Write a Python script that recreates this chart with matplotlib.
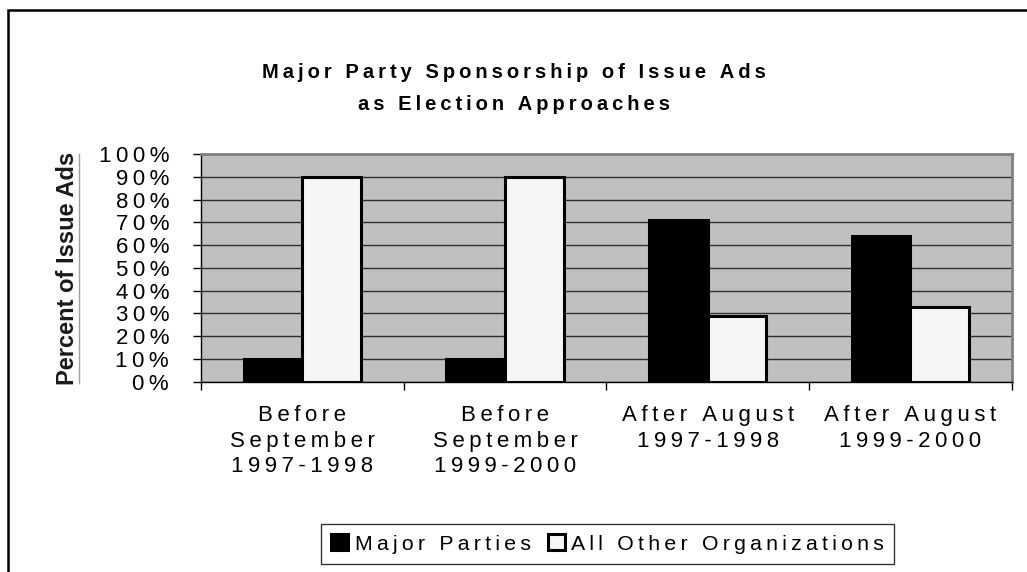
import matplotlib.pyplot as plt
import numpy as np
from matplotlib.patches import Rectangle
from matplotlib.lines import Line2D

plt.rcParams['font.family'] = ['Liberation Sans', 'DejaVu Sans']

categories = ["Before\nSeptember\n1997-1998", "Before\nSeptember\n1999-2000",
              "After August\n1997-1998", "After August\n1999-2000"]
major_parties = [10, 10, 71, 64]
other_orgs = [90, 90, 29, 33]
series_names = ["Major Parties", "All Other Organizations"]
yticks = list(range(0, 101, 10))

THIN = '\u2009'


def spaced(s):
    # wide letter spacing, line by line
    return '\n'.join(THIN.join(line) for line in s.split('\n'))


fig = plt.figure(figsize=(10.27, 5.72), dpi=100)
ax = fig.add_axes([0.1957, 0.3327, 0.7894, 0.3981])
ax.set_facecolor('#C0C0C0')

x = np.arange(len(categories))
w = 0.29
ax.bar(x - w / 2, major_parties, w, color='black', edgecolor='black',
       linewidth=2.2, label=spaced(series_names[0]), zorder=3)
ax.bar(x + w / 2, other_orgs, w, color='#F6F6F6', edgecolor='black',
       linewidth=2.2, label=spaced(series_names[1]), zorder=3)

ax.set_xlim(-0.5, len(categories) - 0.5)
ax.set_ylim(0, 100)
ax.set_yticks(yticks)
ax.set_yticklabels([spaced(f"{v}%") for v in yticks], fontsize=16)
ax.yaxis.grid(True, color='#303030', linewidth=1.0, zorder=1)
ax.set_axisbelow(True)

# category boundaries get tick marks, labels sit between them
ax.set_xticks(np.arange(len(categories) + 1) - 0.5)
ax.set_xticklabels([])
ax.set_xticks(x, minor=True)
ax.set_xticklabels([spaced(c) for c in categories], minor=True, fontsize=16,
                   linespacing=1.27, va='top')
ax.tick_params(axis='x', which='minor', length=0, pad=17)
ax.tick_params(axis='x', which='major', length=6, width=1, direction='out')
ax.tick_params(axis='y', length=6, width=1, direction='out', pad=17)

for side in ('top', 'right'):
    ax.spines[side].set_color('#808080')
    ax.spines[side].set_linewidth(2)
for side in ('left', 'bottom'):
    ax.spines[side].set_color('black')
    ax.spines[side].set_linewidth(1)

fig.text(0.0653, 1 - 268 / 572, "Percent of Issue Ads", rotation=90,
         ha='center', va='center', fontsize=17, fontweight='bold',
         color='#1a1a1a')
fig.add_artist(Line2D([0.077, 0.077], [0.330, 0.731], color='#a0a0a0',
                      linewidth=1, transform=fig.transFigure))

fig.text(0.5, 1 - 72 / 572, spaced("Major Party Sponsorship of Issue Ads"),
         ha='center', va='center', fontsize=14.5, fontweight='bold')
fig.text(0.5, 1 - 105 / 572, spaced("as Election Approaches"),
         ha='center', va='center', fontsize=14.5, fontweight='bold')

leg = ax.legend(loc='center', bbox_to_anchor=(0.5915, 0.049),
                bbox_transform=fig.transFigure, ncol=2, fontsize=15.3,
                frameon=True, fancybox=False, edgecolor='black',
                handlelength=0.8, handleheight=0.8, handletextpad=0.3,
                columnspacing=0.8, borderpad=0.5)
leg.get_frame().set_linewidth(1)

# outer chart border, open on the right and bottom
fig.add_artist(Rectangle((8 / 1027, -0.1), 1.1, 1 - 10 / 572 + 0.1,
                         transform=fig.transFigure, fill=False,
                         edgecolor='black', linewidth=1.8))

fig.savefig('out.png', dpi=100)
